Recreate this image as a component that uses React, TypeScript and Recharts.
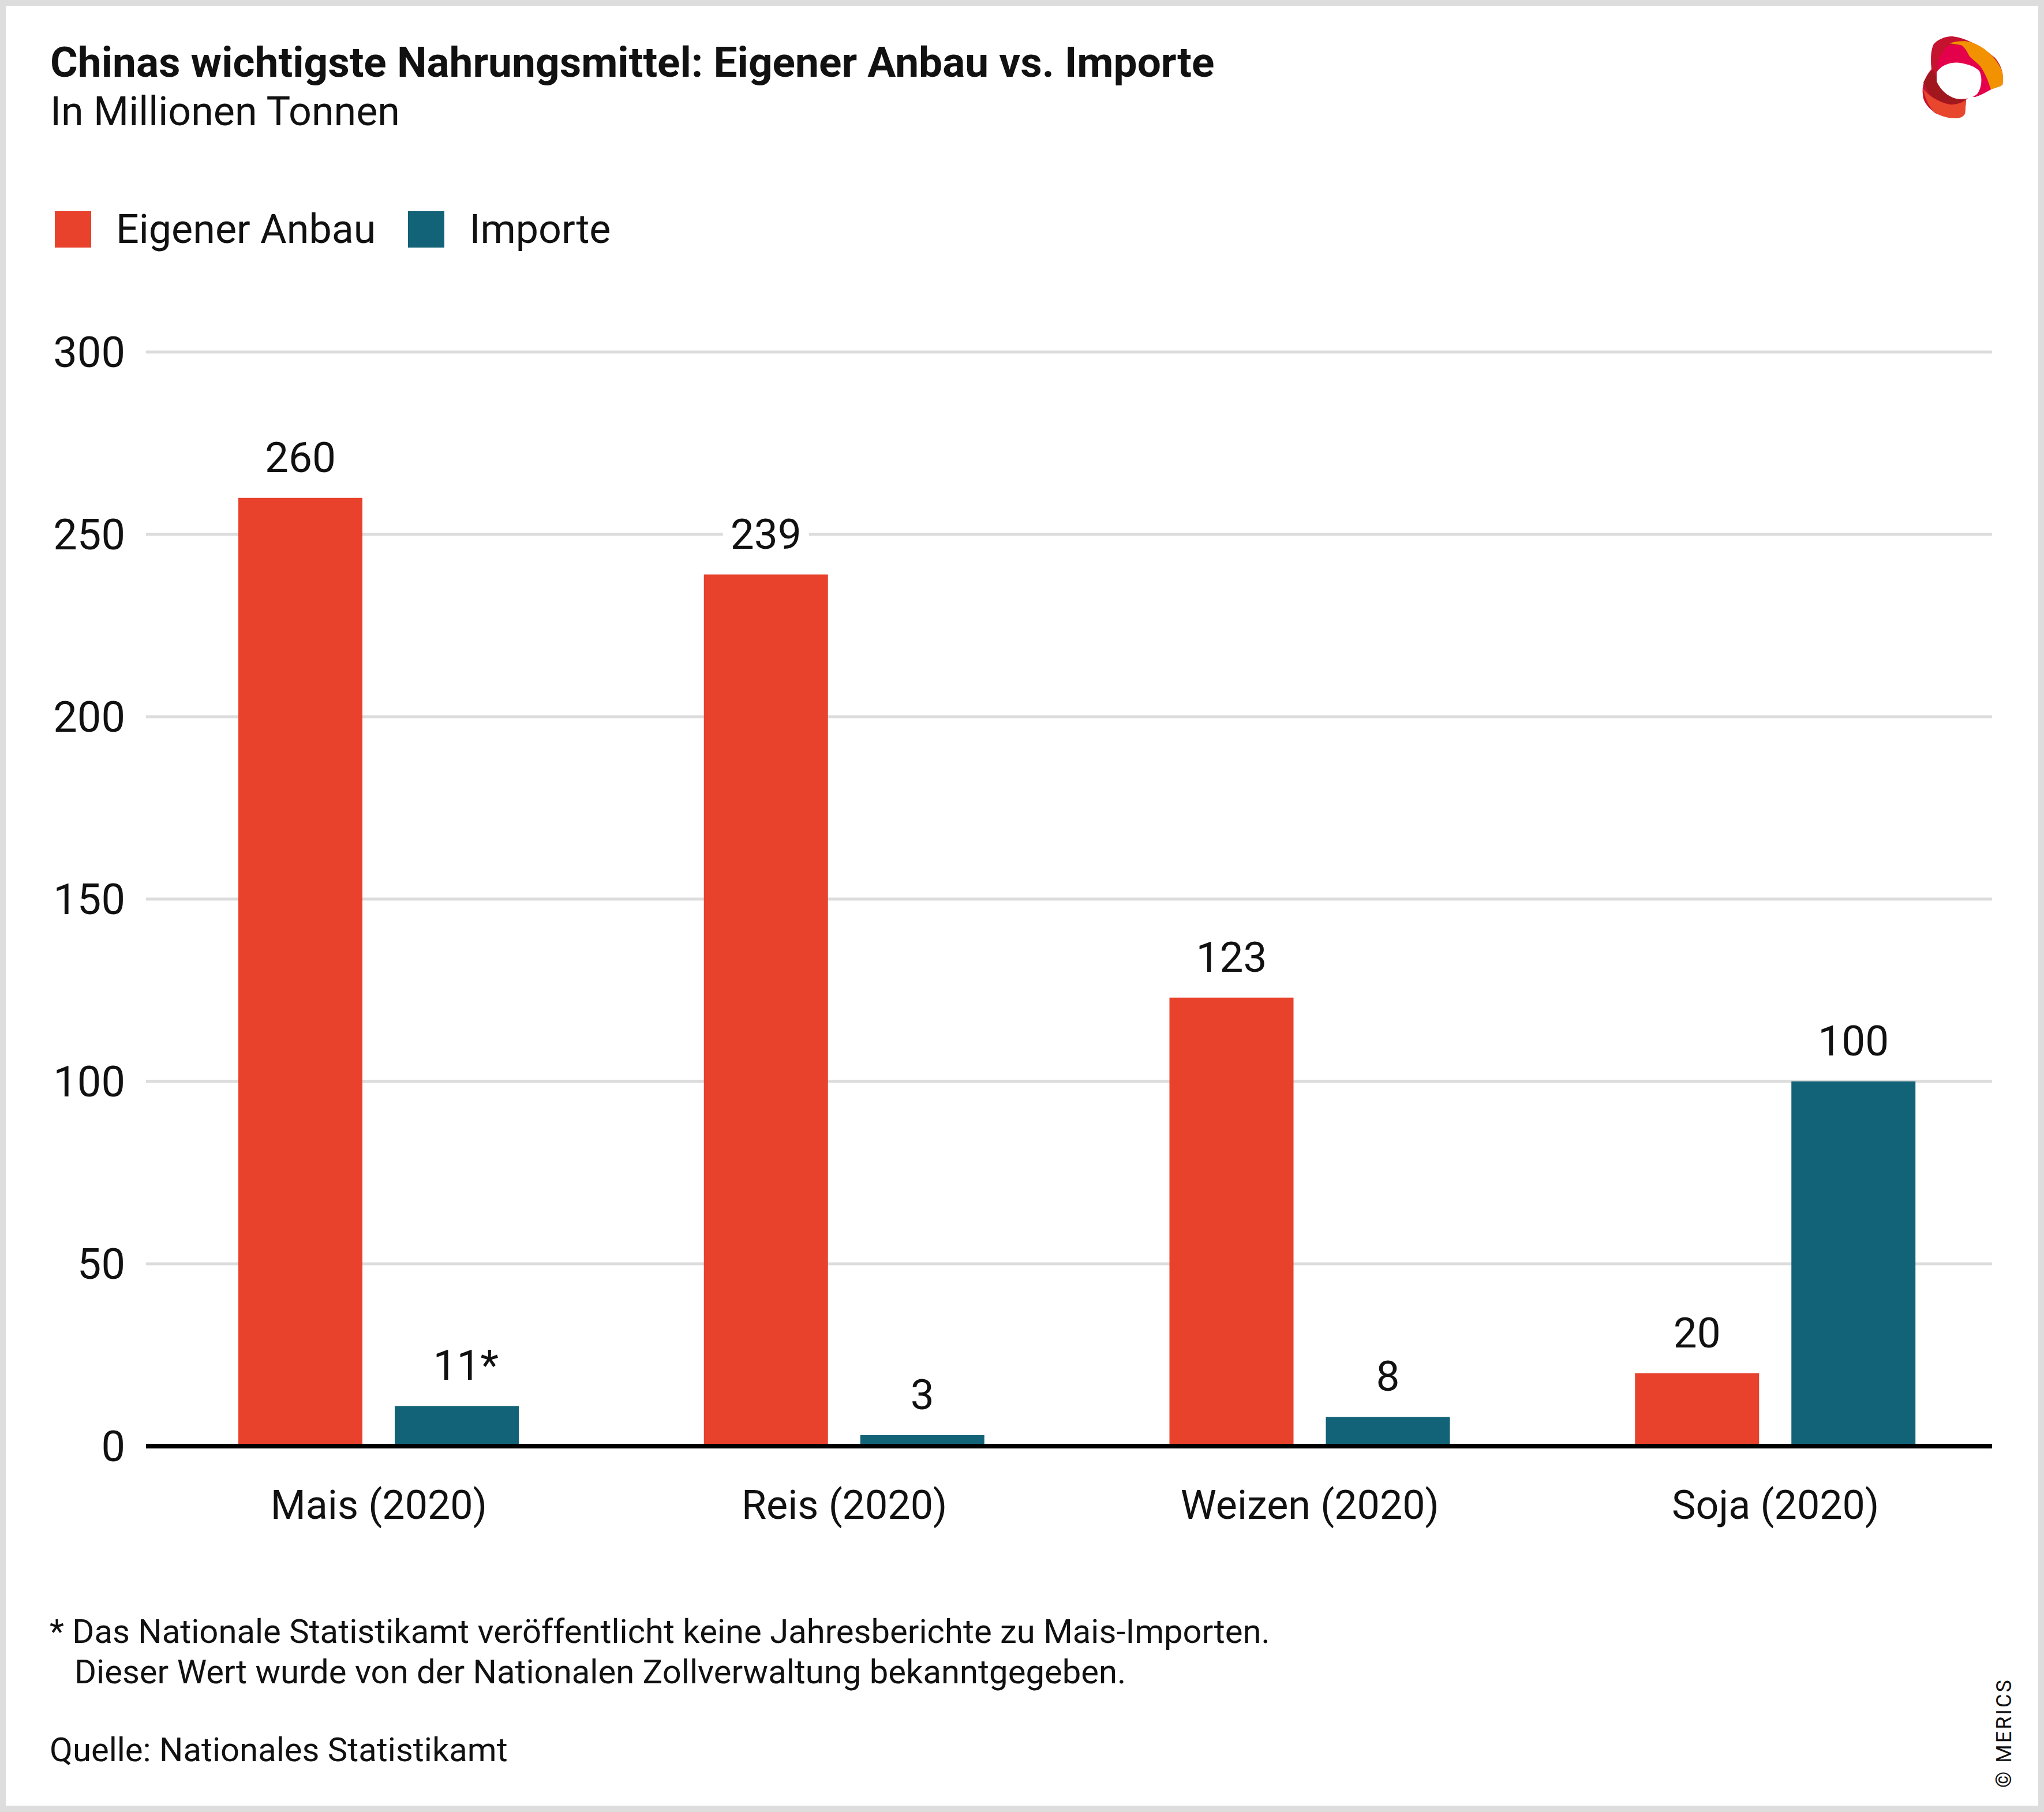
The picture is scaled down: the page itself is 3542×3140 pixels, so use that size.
import { Bar, BarChart, CartesianGrid, LabelList, Legend, XAxis, YAxis } from "recharts";

const categories = ["Mais (2020)", "Reis (2020)", "Weizen (2020)", "Soja (2020)"];
const eigenerAnbau = [260, 239, 123, 20];
const importe = [11, 3, 8, 100];
const importeMarks = ["*", "", "", ""];
const yTicks = [0, 50, 100, 150, 200, 250, 300];

const FONT = "Roboto, 'Noto Sans', sans-serif";
const RED = "#e8412c";
const TEAL = "#126378";
const INK = "#111";

const data = categories.map((name, i) => ({
  name,
  anbau: eigenerAnbau[i],
  importe: importe[i],
  importeLabel: `${importe[i]}${importeMarks[i]}`,
}));

// value above bar, on a white patch so gridlines break around it;
// the number is centred on the bar and a footnote mark hangs to its right
const ValueLabel = (props: any) => {
  const { x, y, width, value } = props;
  const text = String(value);
  const digits = text.replace(/[^0-9]/g, "").length;
  const numW = digits * 41;
  const cx = Number(x) + Number(width) / 2;
  const base = Number(y) - 45;
  const left = cx - numW / 2;
  const w = text.length * 41 + 26;
  return (
    <g>
      <rect x={left - 13} y={base - 60} width={w} height={72} fill="#fff" />
      <text x={left} y={base} textAnchor="start" fontSize={73} fill={INK} fontFamily={FONT}>
        {text}
      </text>
    </g>
  );
};

const renderLegend = (props: any) => (
  <div style={{ display: "flex", alignItems: "center", fontFamily: FONT, fontSize: 70, color: INK }}>
    {(props.payload || []).map((p: any) => (
      <div key={p.value} style={{ display: "flex", alignItems: "center", marginRight: 56 }}>
        <div style={{ width: 63, height: 63, background: p.color, marginRight: 43 }} />
        <span>{p.value}</span>
      </div>
    ))}
  </div>
);

function Logo() {
  return (
    <svg width={142} height={142} viewBox="0 0 142 142" style={{ position: "absolute", left: 3330, top: 63 }}>
      <path
        d="M53,0 C70,2 95,10 127,37 C138,50 143,65 140,84 L120,92 L105,97 C90,102 80,106 77,110 L75,134 C72,140 64,142 60,142 C45,140 25,136 20,130 C10,122 2,112 2,100 C0,88 5,70 17,57 C15,40 16,25 20,15 C26,6 40,0 53,0 Z"
        fill="#c4122f"
      />
      <path
        d="M27,47 C32,32 40,20 48,15 L68,15 C74,18 78,25 82,33 C85,38 92,42 100,50 C110,62 116,80 120,92 C110,98 100,103 93,105 L40,100 Z"
        fill="#e5004c"
      />
      <path
        d="M48,12 C60,8 75,7 85,10 C105,16 125,32 137,55 C143,68 142,80 138,86 L120,92 C116,80 110,62 100,50 C92,42 85,38 82,33 C78,25 74,18 68,15 Z"
        fill="#f39200"
      />
      <path
        d="M3,80 C8,70 14,62 20,58 C26,75 35,92 48,103 C58,108 68,110 77,110 C72,114 62,117 53,118 C38,116 25,110 15,102 Z"
        fill="#a0171e"
      />
      <path
        d="M2,90 C6,108 14,124 22,131 C32,139 48,142 60,142 C68,141 73,138 75,134 L77,110 C68,116 58,119 48,118 C30,114 12,104 2,90 Z"
        fill="#e8472d"
      />
      <path
        d="M26,62 C34,50 50,44 66,46 C80,48 92,52 100,60 C106,72 104,90 96,100 C86,108 72,110 60,108 C44,104 32,92 26,78 Z"
        fill="#fff"
      />
    </svg>
  );
}

export default function App() {
  return (
    <div
      style={{
        position: "absolute",
        left: 0,
        top: 0,
        width: 3542,
        height: 3140,
        background: "#dddddd",
        fontFamily: FONT,
        color: INK,
      }}
    >
      <div style={{ position: "absolute", left: 10, top: 10, right: 10, bottom: 11, background: "#fff" }} />

      <div style={{ position: "absolute", left: 87, top: 72, fontSize: 73, fontWeight: 700, lineHeight: 1, whiteSpace: "nowrap" }}>
        Chinas wichtigste Nahrungsmittel: Eigener Anbau vs. Importe
      </div>
      <div style={{ position: "absolute", left: 87, top: 158, fontSize: 70, lineHeight: 1, whiteSpace: "nowrap" }}>
        In Millionen Tonnen
      </div>

      <Logo />

      <div style={{ position: "absolute", left: 0, top: 0 }}>
        <BarChart
          width={3542}
          height={2750}
          data={data}
          margin={{ top: 610, right: 90, left: 0, bottom: 0 }}
          barSize={215}
          barGap={56}
        >
          <CartesianGrid vertical={false} stroke="#dcdcdc" strokeWidth={5} />
          <XAxis
            dataKey="name"
            height={244}
            padding={{ left: 0, right: -28 }}
            axisLine={{ stroke: "#000", strokeWidth: 8 }}
            tickLine={false}
            tickSize={0}
            tickMargin={76}
            tick={{ fontSize: 70, fill: INK, fontFamily: FONT }}
            interval={0}
          />
          <YAxis
            width={253}
            domain={[0, 300]}
            ticks={yTicks}
            interval={0}
            axisLine={false}
            tickLine={false}
            tickSize={0}
            tickMargin={36}
            tick={{ fontSize: 74, fill: INK, fontFamily: FONT }}
          />
          <Legend
            layout="horizontal"
            verticalAlign="middle"
            align="center"
            wrapperStyle={{ left: 95, top: 356 }}
            content={renderLegend}
          />
          <Bar dataKey="anbau" name="Eigener Anbau" fill={RED} isAnimationActive={false}>
            <LabelList dataKey="anbau" content={ValueLabel} />
          </Bar>
          <Bar dataKey="importe" name="Importe" fill={TEAL} isAnimationActive={false}>
            <LabelList dataKey="importeLabel" content={ValueLabel} />
          </Bar>
        </BarChart>
      </div>

      <div style={{ position: "absolute", left: 86, top: 2792, fontSize: 58, lineHeight: "70px", whiteSpace: "nowrap" }}>
        <div>* Das Nationale Statistikamt veröffentlicht keine Jahresberichte zu Mais-Importen.</div>
        <div style={{ paddingLeft: 43 }}>Dieser Wert wurde von der Nationalen Zollverwaltung bekanntgegeben.</div>
      </div>
      <div style={{ position: "absolute", left: 86, top: 3003, fontSize: 58, lineHeight: 1, whiteSpace: "nowrap" }}>
        Quelle: Nationales Statistikamt
      </div>

      <div
        style={{
          position: "absolute",
          left: 3378,
          top: 2983,
          width: 190,
          height: 40,
          lineHeight: "40px",
          fontSize: 36,
          letterSpacing: 3,
          textAlign: "center",
          whiteSpace: "nowrap",
          transform: "rotate(-90deg)",
        }}
      >
        © MERICS
      </div>
    </div>
  );
}
